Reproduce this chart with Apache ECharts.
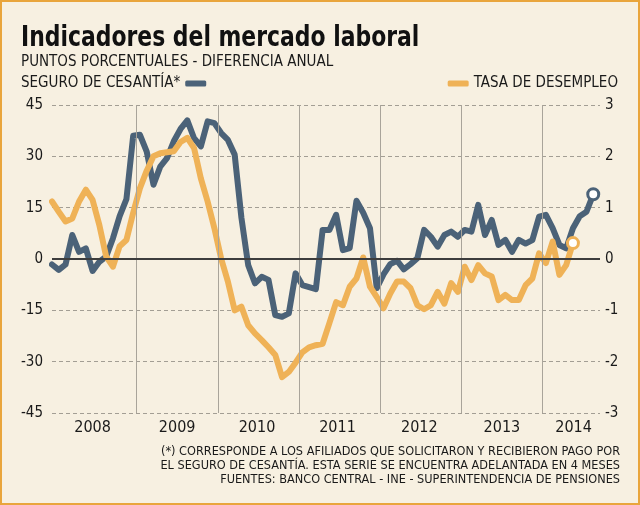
<!DOCTYPE html>
<html>
<head>
<meta charset="utf-8">
<title>Indicadores del mercado laboral</title>
<script src="https://cdn.jsdelivr.net/npm/echarts@6/dist/echarts.min.js"></script>
<style>
  html, body { margin: 0; padding: 0; background: #f7f0e1; }
  #main { width: 640px; height: 505px; }
</style>
</head>
<body>
<div id="main"></div>
<script>
// meses contados desde ene-2008 (= 0); ambas series parten en dic-2007 (= -1)
const firstMonth = -1

// seguro de cesantía, eje izquierdo (puntos porcentuales)
const seguroCesantia = [
  -1.6, -3.2, -1.6, 7, 2.1, 3.1, -3.5, -0.8, 0.7, 6, 12.5, 17.5, 36,
  36.3, 31.4, 21.7, 27, 29.5, 34.4, 38, 40.5, 35.3, 32.9, 40.2, 39.7,
  36.8, 34.8, 30.5, 12, -1.8, -7.1, -5.2, -6.1, -16.4, -16.9, -15.9, -4.2,
  -7.6, -8.2, -8.8, 8.5, 8.5, 12.9, 2.6, 3.2, 17, 13.5, 9, -8.5,
  -4.5, -1.5, -0.5, -3, -1.5, 0.2, 8.5, 6.5, 3.6, 7, 8, 6.5,
  8.5, 8, 15.8, 7, 11.4, 4.1, 5.6, 2.1, 5.6, 4.5, 5.5, 12.4,
  12.9, 9, 4.1, 3.1, 9, 12.5, 13.8, 18.9
]

// tasa de desempleo, eje derecho
const tasaDesempleo = [
  1.12, 0.92, 0.73, 0.79, 1.12, 1.35, 1.15, 0.66, 0.05, -0.15, 0.25, 0.37, 0.9,
  1.38, 1.72, 2.0, 2.06, 2.08, 2.1, 2.28, 2.36, 2.16, 1.57, 1.12, 0.6,
  0.01, -0.44, -1.0, -0.93, -1.29, -1.45, -1.58, -1.72, -1.87, -2.3, -2.2, -2.02,
  -1.82, -1.72, -1.68, -1.65, -1.25, -0.84, -0.9, -0.54, -0.38, 0.03, -0.54, -0.74,
  -0.96, -0.67, -0.44, -0.44, -0.57, -0.9, -0.98, -0.9, -0.64, -0.87, -0.47, -0.64,
  -0.15, -0.41, -0.12, -0.28, -0.34, -0.8, -0.7, -0.8, -0.8, -0.51, -0.38, 0.11,
  -0.08, 0.34, -0.31, -0.12, 0.31
]

const yearNames = ['2008', '2009', '2010', '2011', '2012', '2013', '2014']
const yearLabelAt = [5, 17.5, 29.3, 41.2, 53.3, 65.5, 76.1]
const yearBreaks = [11.5, 23.5, 35.5, 47.5, 59.5, 71.5]

const notas = [
  '(*) CORRESPONDE A LOS AFILIADOS QUE SOLICITARON Y RECIBIERON PAGO POR',
  'EL SEGURO DE CESANTÍA. ESTA SERIE SE ENCUENTRA ADELANTADA EN 4 MESES',
  'FUENTES: BANCO CENTRAL - INE - SUPERINTENDENCIA DE PENSIONES'
]

const font = '"Liberation Sans Narrow", "DejaVu Sans Condensed", sans-serif'
const azul = '#4b6278'
const naranjo = '#efb257'
const txt = '#1a1a1a'

// pares [mes, valor]; el último punto lleva el círculo blanco
function toPairs(arr, color) {
  let out = arr.map((v, i) => [firstMonth + i, v])
  let last = out.length - 1
  out[last] = {
    value: out[last],
    symbol: 'circle',
    symbolSize: 11,
    itemStyle: { color: '#fff', borderColor: color, borderWidth: 3 }
  }
  return out
}

let chart = echarts.init(document.getElementById('main'), null, { renderer: 'canvas' })

let graficos = [
  { type: 'rect', shape: { x: 1, y: 1, width: 638, height: 503 },
    style: { fill: 'none', stroke: '#e9a53c', lineWidth: 2 }, silent: true },
  // título un poco comprimido, la fuente original es angosta
  { type: 'text', x: 21, y: 24, scaleX: 0.84,
    style: { text: 'Indicadores del mercado laboral', font: 'bold 29px ' + font, fill: '#111',
             verticalAlign: 'top' } },
  { type: 'text', left: 21, top: 55,
    style: { text: 'PUNTOS PORCENTUALES - DIFERENCIA ANUAL', font: '15px ' + font, fill: txt } }
]
notas.forEach((t, i) => {
  graficos.push({
    type: 'text', right: 20, top: 445 + i * 14,
    style: { text: t, font: '12.6px ' + font, fill: txt }
  })
})

let option = {
  backgroundColor: '#f7f0e1',
  animation: false,
  textStyle: { fontFamily: font },
  graphic: graficos,
  legend: [
    {
      data: ['SEGURO DE CESANTÍA*'],
      left: 21, top: 76, padding: 0,
      align: 'right',
      icon: 'roundRect', itemWidth: 21, itemHeight: 6,
      textStyle: { fontSize: 15, color: txt, fontFamily: font }
    },
    {
      data: ['TASA DE DESEMPLEO'],
      right: 22, top: 76, padding: 0,
      align: 'left',
      icon: 'roundRect', itemWidth: 21, itemHeight: 6,
      textStyle: { fontSize: 15, color: txt, fontFamily: font }
    }
  ],
  grid: { left: 52, right: 40, top: 105, bottom: 92 },
  xAxis: {
    type: 'value',
    min: -1,
    max: 80,
    axisLine: { show: false },
    axisTick: { show: false },
    splitLine: { show: false },
    axisLabel: {
      customValues: yearLabelAt,
      formatter: function (v) {
        let i = yearLabelAt.indexOf(v)
        return i >= 0 ? yearNames[i] : ''
      },
      fontSize: 16, color: txt, margin: 7
    }
  },
  yAxis: [
    {
      type: 'value', min: -45, max: 45, interval: 15,
      axisLine: { show: false }, axisTick: { show: false },
      axisLabel: { fontSize: 15, color: txt, margin: 9 },
      splitLine: { lineStyle: { color: '#a39e94', type: [4, 3], width: 1 } }
    },
    {
      type: 'value', min: -3, max: 3, interval: 1,
      axisLine: { show: false }, axisTick: { show: false },
      axisLabel: { fontSize: 15, color: txt, margin: 5 },
      splitLine: { show: false }
    }
  ],
  series: [
    {
      // guías: separadores de año y línea de cero
      name: 'guias',
      type: 'line',
      z: 1,
      data: [[firstMonth, 0]],
      symbol: 'none',
      lineStyle: { opacity: 0 },
      markLine: {
        silent: true,
        symbol: ['none', 'none'],
        label: { show: false },
        data: yearBreaks.map(x => ({ xAxis: x, lineStyle: { color: '#a9a49a', width: 1, type: 'solid' } }))
          .concat([{ yAxis: 0, lineStyle: { color: '#3d3d3d', width: 2, type: 'solid' } }])
      }
    },
    {
      name: 'SEGURO DE CESANTÍA*',
      type: 'line',
      yAxisIndex: 0,
      z: 3,
      symbol: 'none',
      showAllSymbol: true,
      color: azul,
      lineStyle: { width: 6, color: azul, cap: 'round', join: 'round' },
      data: toPairs(seguroCesantia, azul)
    },
    {
      name: 'TASA DE DESEMPLEO',
      type: 'line',
      yAxisIndex: 1,
      z: 4,
      symbol: 'none',
      showAllSymbol: true,
      color: naranjo,
      lineStyle: { width: 6, color: naranjo, cap: 'round', join: 'round' },
      data: toPairs(tasaDesempleo, naranjo)
    }
  ]
}

chart.setOption(option)
</script>
</body>
</html>
